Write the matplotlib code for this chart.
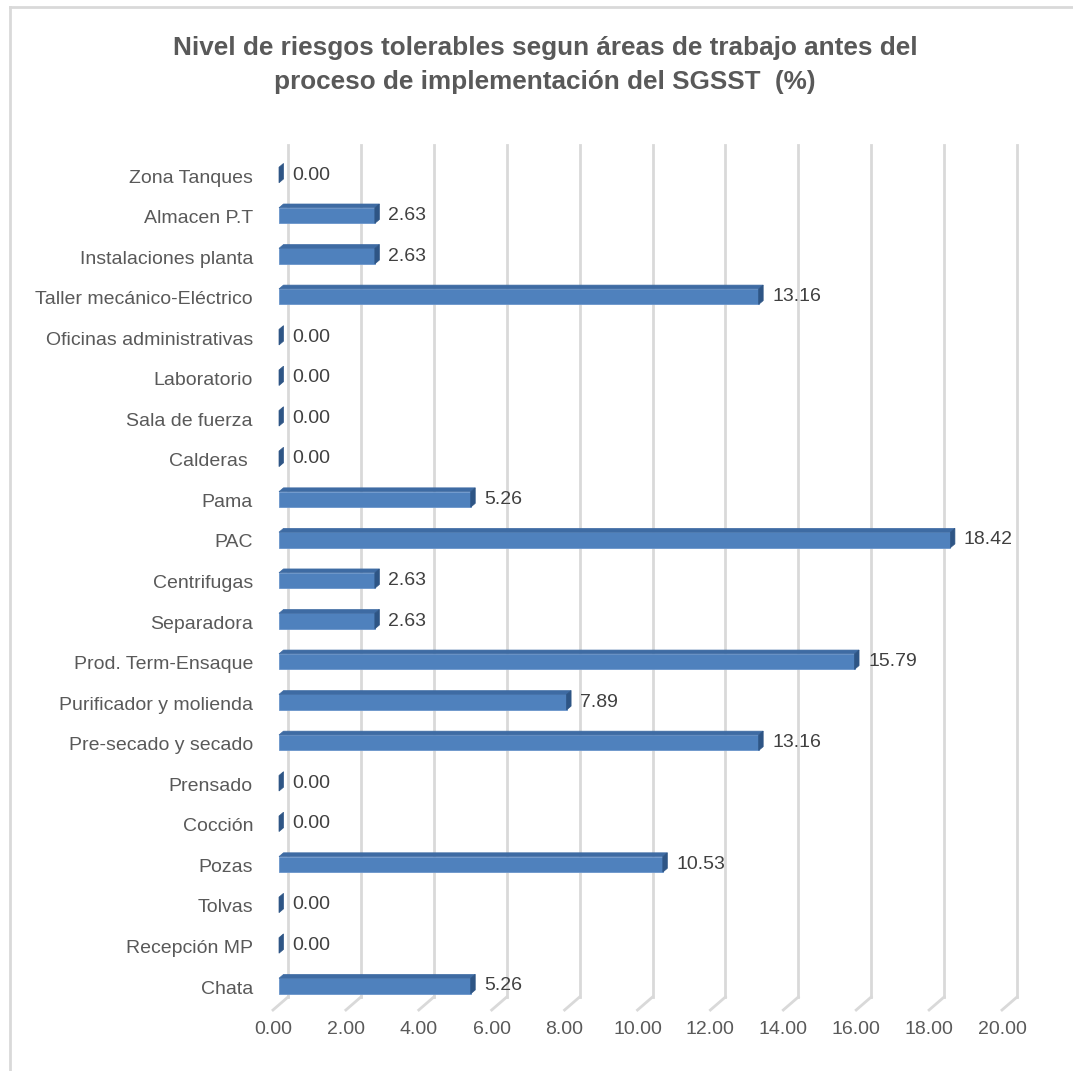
import numpy as np
import matplotlib.pyplot as plt
from matplotlib.patches import Polygon
from matplotlib.lines import Line2D

plt.rcParams['font.family'] = ['Liberation Sans', 'DejaVu Sans']

# Areas listed bottom to top, with the percentage of tolerable risks
areas = ['Chata', 'Recepción MP', 'Tolvas', 'Pozas', 'Cocción', 'Prensado',
         'Pre-secado y secado', 'Purificador y molienda', 'Prod. Term-Ensaque',
         'Separadora', 'Centrifugas', 'PAC', 'Pama', 'Calderas ', 'Sala de fuerza',
         'Laboratorio', 'Oficinas administrativas', 'Taller mecánico-Eléctrico',
         'Instalaciones planta', 'Almacen P.T', 'Zona Tanques']
values = [5.26, 0.00, 0.00, 10.53, 0.00, 0.00, 13.16, 7.89, 15.79, 2.63, 2.63,
          18.42, 5.26, 0.00, 0.00, 0.00, 0.00, 13.16, 2.63, 2.63, 0.00]
xticks = [0, 2, 4, 6, 8, 10, 12, 14, 16, 18, 20]

W, H = 1073, 1071
fig = plt.figure(figsize=(W / 100, H / 100), dpi=100)

# pixel scale of the plot area (front face of the bars)
x0_px, xs = 279, 36.45
y0_px, ys = 986, 40.55
xlim = (-0.3, 20.5)
ylim = (-0.75, 20.8)
ax = fig.add_axes([(x0_px + xlim[0] * xs) / W,
                   (H - (y0_px - ylim[0] * ys)) / H,
                   (xlim[1] - xlim[0]) * xs / W,
                   (ylim[1] - ylim[0]) * ys / H])
ax.set_xlim(*xlim)
ax.set_ylim(*ylim)
ax.axis('off')

# 3D offsets, converted from pixels to data units
back_dx, front_dx = 9 / xs, -6 / xs
floor_back, floor_front = -11 / ys, -24 / ys
top_y = (y0_px - 145) / ys
bar_h = 15.5 / ys
ddx, ddy = 4.5 / xs, 3.8 / ys

grid_col = '#D9D9D9'
for t in xticks:
    ax.plot([t + back_dx, t + back_dx], [floor_back, top_y], color=grid_col, lw=2, zorder=1)
    ax.plot([t + back_dx, t + front_dx], [floor_back, floor_front], color=grid_col, lw=2, zorder=1)
    ax.text(t + front_dx, floor_front - 20 / ys, f'{t:.2f}', ha='center', va='center',
            fontsize=14, color='#595959')

front_col, top_col, side_col = '#4F81BD', '#3E6BA3', '#2E5585'
for i, (name, v) in enumerate(zip(areas, values)):
    y1, y2 = i - bar_h / 2, i + bar_h / 2
    if v > 0:
        ax.add_patch(Polygon([(0, y1), (v, y1), (v, y2), (0, y2)], closed=True,
                             facecolor=front_col, edgecolor='#6A95CB', lw=0.6, zorder=3))
        ax.add_patch(Polygon([(0, y2), (v, y2), (v + ddx, y2 + ddy), (ddx, y2 + ddy)],
                             closed=True, facecolor=top_col, edgecolor=top_col, lw=0.5, zorder=3))
    ax.add_patch(Polygon([(v, y1), (v, y2), (v + ddx, y2 + ddy), (v + ddx, y1 + ddy)],
                         closed=True, facecolor=side_col, edgecolor=side_col, lw=0.5, zorder=3))
    ax.text(v + ddx + 9 / xs, i, f'{v:.2f}', ha='left', va='center',
            fontsize=14, color='#404040', zorder=4)
    ax.text(-26 / xs, i - 3 / ys, name, ha='right', va='center',
            fontsize=14, color='#595959', clip_on=False)

fig.text(545 / W, 1 - 65 / H,
         'Nivel de riesgos tolerables segun áreas de trabajo antes del\n'
         'proceso de implementación del SGSST  (%)',
         ha='center', va='center', fontsize=18.8, fontweight='bold', color='#595959',
         linespacing=1.55)

# chart frame
fig.add_artist(Line2D([10 / W, 10 / W], [0, 1 - 7 / H], color=grid_col, lw=2))
fig.add_artist(Line2D([10 / W, 1], [1 - 7 / H, 1 - 7 / H], color=grid_col, lw=2))

fig.savefig('out.png', dpi=100)
